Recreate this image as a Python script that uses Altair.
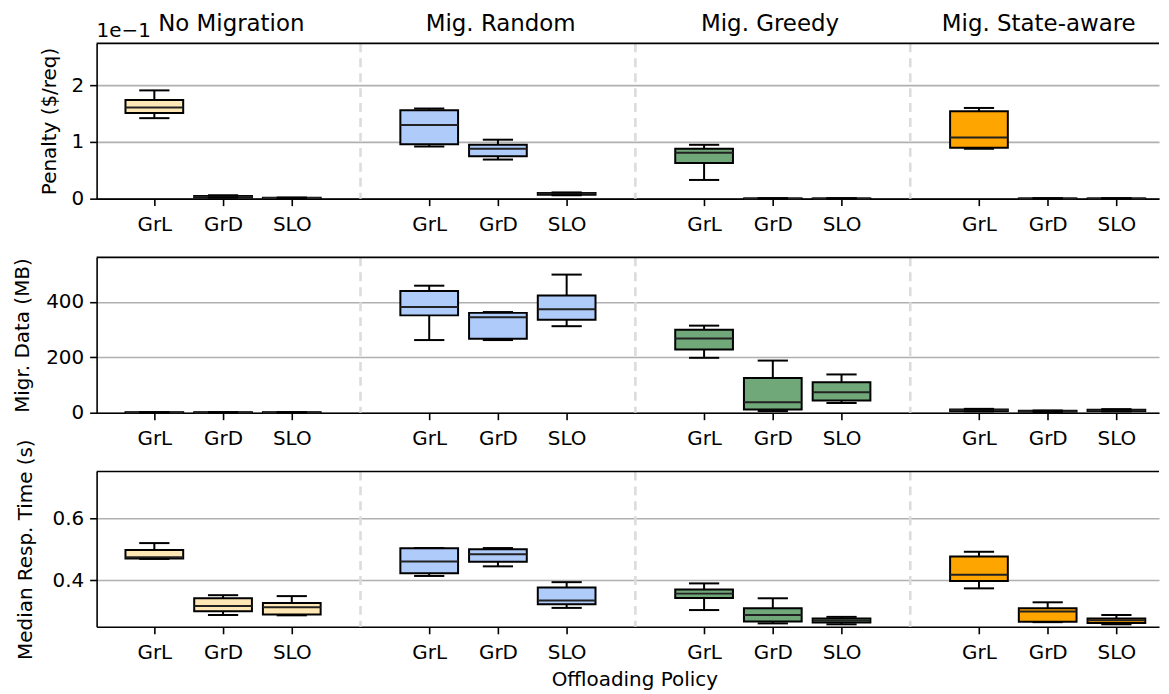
import altair as alt
import pandas as pd

FONT = "DejaVu Sans"

groups = ["No Migration", "Mig. Random", "Mig. Greedy", "Mig. State-aware"]
policies = ["GrL", "GrD", "SLO"]
colors = ["#ffe8b5", "#aecbfa", "#70a87a", "#ffa500"]

# Penalty (in units of 1e-1 $/req); order: group x policy
pen_lo = [1.42, 0.02, 0.005, 0.92, 0.69, 0.06, 0.33, 0.002, 0.002, 0.88, 0.002, 0.002]
pen_q1 = [1.51, 0.025, 0.008, 0.96, 0.75, 0.07, 0.63, 0.003, 0.003, 0.90, 0.003, 0.003]
pen_med = [1.61, 0.035, 0.012, 1.30, 0.88, 0.09, 0.81, 0.004, 0.004, 1.08, 0.004, 0.004]
pen_q3 = [1.74, 0.045, 0.015, 1.56, 0.95, 0.10, 0.88, 0.005, 0.005, 1.54, 0.005, 0.005]
pen_hi = [1.91, 0.06, 0.02, 1.59, 1.04, 0.11, 0.95, 0.007, 0.007, 1.60, 0.007, 0.007]

# Migrated data (MB)
mig_lo = [0, 0, 0, 262, 262, 312, 198, 6, 35, 5, 3, 5]
mig_q1 = [0.5, 0.5, 0.5, 351, 267, 335, 228, 12, 44, 6, 4, 6]
mig_med = [1, 1, 1, 381, 344, 373, 268, 38, 74, 9, 5, 8]
mig_q3 = [1.5, 1.5, 1.5, 439, 360, 423, 299, 125, 110, 12, 7, 11]
mig_hi = [2, 2, 2, 458, 363, 498, 314, 188, 138, 14, 8, 13]

# Median response time (s)
rt_lo = [0.469, 0.288, 0.287, 0.414, 0.445, 0.311, 0.304, 0.261, 0.258, 0.374, 0.265, 0.258]
rt_q1 = [0.470, 0.300, 0.290, 0.423, 0.460, 0.323, 0.343, 0.267, 0.264, 0.398, 0.266, 0.262]
rt_med = [0.474, 0.317, 0.313, 0.461, 0.484, 0.335, 0.357, 0.288, 0.270, 0.418, 0.299, 0.271]
rt_q3 = [0.498, 0.342, 0.327, 0.503, 0.500, 0.377, 0.370, 0.310, 0.277, 0.477, 0.310, 0.277]
rt_hi = [0.520, 0.352, 0.349, 0.504, 0.504, 0.394, 0.390, 0.342, 0.282, 0.492, 0.329, 0.288]

separators = [4, 8, 12]
title_x = [2.12, 6.04, 9.96, 13.87]

W = 1067
H = 156
XMIN, XMAX = 0.16, 15.62
BOX_HALF = 0.42
CAP_HALF = 0.22

tick_pos = [gi * 4 + pi + 1 for gi in range(len(groups)) for pi in range(len(policies))]
label_expr = "[" + ",".join("'%s'" % p for p in policies) + "][(datum.value - 1) % 4]"


def make_df(lo, q1, med, q3, hi):
    rows = []
    for gi, g in enumerate(groups):
        for pi, p in enumerate(policies):
            k = gi * 3 + pi
            rows.append(dict(group=g, policy=p, pos=gi * 4 + pi + 1,
                             lo=lo[k], q1=q1[k], med=med[k], q3=q3[k], hi=hi[k]))
    return pd.DataFrame(rows)


def panel(df, ydom, yvals, yfmt, ytitle, tpad, xtitle=None, top=False):
    xscale = alt.Scale(domain=[XMIN, XMAX], nice=False, zero=False)
    xkw = dict(values=tick_pos, labelExpr=label_expr, grid=False,
               tickSize=7, labelPadding=9)
    if xtitle:
        xkw.update(title=xtitle, titleX=540, titleY=43, titleBaseline="top",
                   titleAnchor="middle", titleAlign="center")
    xaxis = alt.Axis(**xkw)
    yscale = alt.Scale(domain=ydom, nice=False, zero=False)
    yaxis = alt.Axis(values=yvals, format=yfmt, grid=True, tickSize=7,
                     labelPadding=6, title=ytitle, titlePadding=tpad)

    def X(f):
        return alt.X(f, type="quantitative", scale=xscale, axis=xaxis,
                     title=xtitle if xtitle else None)

    def Y(f):
        return alt.Y(f, type="quantitative", scale=yscale, axis=yaxis, title=ytitle)

    base = alt.Chart(df).transform_calculate(
        x0="datum.pos - %f" % BOX_HALF, x1="datum.pos + %f" % BOX_HALF,
        c0="datum.pos - %f" % CAP_HALF, c1="datum.pos + %f" % CAP_HALF)

    seps = alt.Chart(pd.DataFrame({"s": separators})).mark_rule(
        color="#dcdcdc", strokeWidth=2.6, strokeDash=[9, 6]).encode(x=X("s"))
    whisk = base.mark_rule(color="black", strokeWidth=2).encode(
        x=X("pos"), y=Y("lo"), y2="hi:Q")
    box = base.mark_rect(stroke="black", strokeWidth=2).encode(
        x=X("x0"), x2="x1:Q", y=Y("q1"), y2="q3:Q",
        fill=alt.Fill("group:N", scale=alt.Scale(domain=groups, range=colors), legend=None))
    med = base.mark_rule(color="#222222", strokeWidth=2).encode(
        x=X("x0"), x2="x1:Q", y=Y("med"))
    cap_lo = base.mark_rule(color="black", strokeWidth=2).encode(
        x=X("c0"), x2="c1:Q", y=Y("lo"))
    cap_hi = base.mark_rule(color="black", strokeWidth=2).encode(
        x=X("c0"), x2="c1:Q", y=Y("hi"))
    spine = alt.Chart(pd.DataFrame({"a": [0]})).mark_rule(
        color="black", strokeWidth=1.6).encode(
        x=alt.value(0), x2=alt.value(W), y=alt.value(0))
    layers = [seps, whisk, box, med, cap_lo, cap_hi, spine]
    if top:
        tdf = pd.DataFrame({"group": groups, "tx": title_x})
        titles = alt.Chart(tdf).mark_text(
            fontSize=23, font=FONT, baseline="alphabetic", align="center",
            color="black").encode(x=X("tx"), y=alt.value(-12), text="group:N")
        offs = alt.Chart(pd.DataFrame({"a": [0]})).mark_text(
            fontSize=20, font=FONT, baseline="alphabetic", align="left",
            color="black").encode(x=alt.value(0), y=alt.value(-6), text=alt.value("1e\u22121"))
        layers += [titles, offs]
    return alt.layer(*layers).properties(width=W, height=H)


r1 = panel(make_df(pen_lo, pen_q1, pen_med, pen_q3, pen_hi), [0, 2.74], [0, 1, 2], "d",
           "Penalty ($/req)", 12, top=True)
r2 = panel(make_df(mig_lo, mig_q1, mig_med, mig_q3, mig_hi), [0, 560], [0, 200, 400], "d",
           "Migr. Data (MB)", 13)
r3 = panel(make_df(rt_lo, rt_q1, rt_med, rt_q3, rt_hi), [0.25, 0.751], [0.4, 0.6], ".1f",
           "Median Resp. Time (s)", 17, xtitle="Offloading Policy")

chart = alt.vconcat(r1, r2, r3, spacing=59, bounds="flush").properties(
    padding={"left": 4, "top": 3, "right": 0, "bottom": 0},
    background="white",
).configure_view(stroke="transparent").configure_axis(
    labelFont=FONT, labelFontSize=20, labelColor="black",
    titleFont=FONT, titleFontSize=20, titleFontWeight="normal", titleColor="black",
    domainColor="black", domainWidth=1.6, tickColor="black", tickWidth=1.6,
    gridColor="#b0b0b0", gridWidth=1.6,
)

chart.save("out.html", embed_options={"renderer": "svg", "actions": False})
